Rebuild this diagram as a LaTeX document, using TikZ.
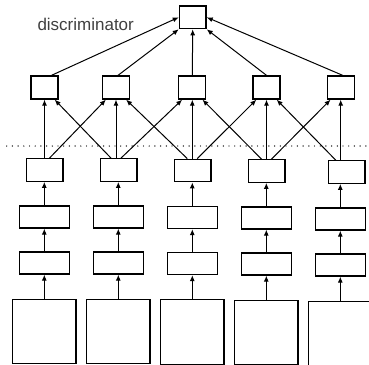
\documentclass[tikz,border=0pt]{standalone}
\usepackage{fontspec}
\setmainfont{Liberation Sans}
\usetikzlibrary{calc, arrows.meta}
\tikzset{>={Latex[length=6pt,width=5pt]}}
\tikzset{
  unit/.style={draw, line width=1.3pt, inner sep=0pt, minimum width=27pt, minimum height=23pt},
  link/.style={->, line width=1pt},
  sep/.style={line width=1.4pt, line cap=round, dash pattern=on 0pt off 5.7pt}
}

\begin{document}
\begin{tikzpicture}[x=1pt, y=-1pt]
\useasboundingbox (0,0) rectangle (369,364);
% top unit and its label
\node[unit, minimum width=26.7pt, minimum height=22.7pt] (disc) at (192.7,17.3) {};
\node[text=black!75, font=\fontsize{17}{20}\selectfont, anchor=base west, inner sep=0pt] (disclabel) at (37.3,30) {discriminator};
% middle row
\foreach \i/\x in {1/44.5, 2/116, 3/192.3, 4/266.5, 5/340.7}
  \node[unit] (h\i) at (\x,87.5) {};
% columns below the dotted line
\foreach \i/\xf/\x/\dy in {1/44.5/44.3/0, 2/118.5/118.3/0, 3/192.5/192.3/0.5, 4/266.5/266.3/1, 5/346.5/340.3/2} {
  \node[unit, minimum width=36.7pt, minimum height=22.5pt] (f\i) at (\xf,170+\dy) {};
  \node[unit, minimum width=50pt, minimum height=22pt] (a\i) at (\x,217+\dy) {};
  \node[unit, minimum width=50pt, minimum height=22pt] (b\i) at (\x,263+\dy) {};
  \node[unit, minimum width=63.3pt, minimum height=64.5pt, anchor=north] (img\i) at (\x,298.5+\dy) {};
  \path
  (img\i.north)          edge[link] (b\i.south)
  (b\i.north)            edge[link] (a\i.south)
  (a\i.north)            edge[link] (a\i.north |- f\i.south)
  (h\i.south |- f\i.north) edge[link] (h\i.south);
}
% cross links
\foreach \i/\j in {1/2, 2/3, 3/4, 4/5}
  \path
  ($(h\i.south |- f\i.north)+(5,0)$)  edge[link] ($(h\j.south west)+(4,0)$)
  ($(h\j.south |- f\j.north)+(-5,0)$) edge[link] ($(h\i.south east)+(-4,0)$);
% into the top unit
\path
($(h1.north)+(7,0)$) edge[link] (disc.west)
($(h2.north)+(2,0)$) edge[link] (disc.south west)
(h3.north)           edge[link] (disc.south)
(h4.north)           edge[link] (disc.south east)
($(h5.north)+(2,0)$) edge[link] (disc.east);
% dotted separator
\coordinate (sepL) at (6.7,146);
\coordinate (sepR) at (369,146);
\draw[sep] (sepL) -- (sepR);
\end{tikzpicture}
\end{document}
